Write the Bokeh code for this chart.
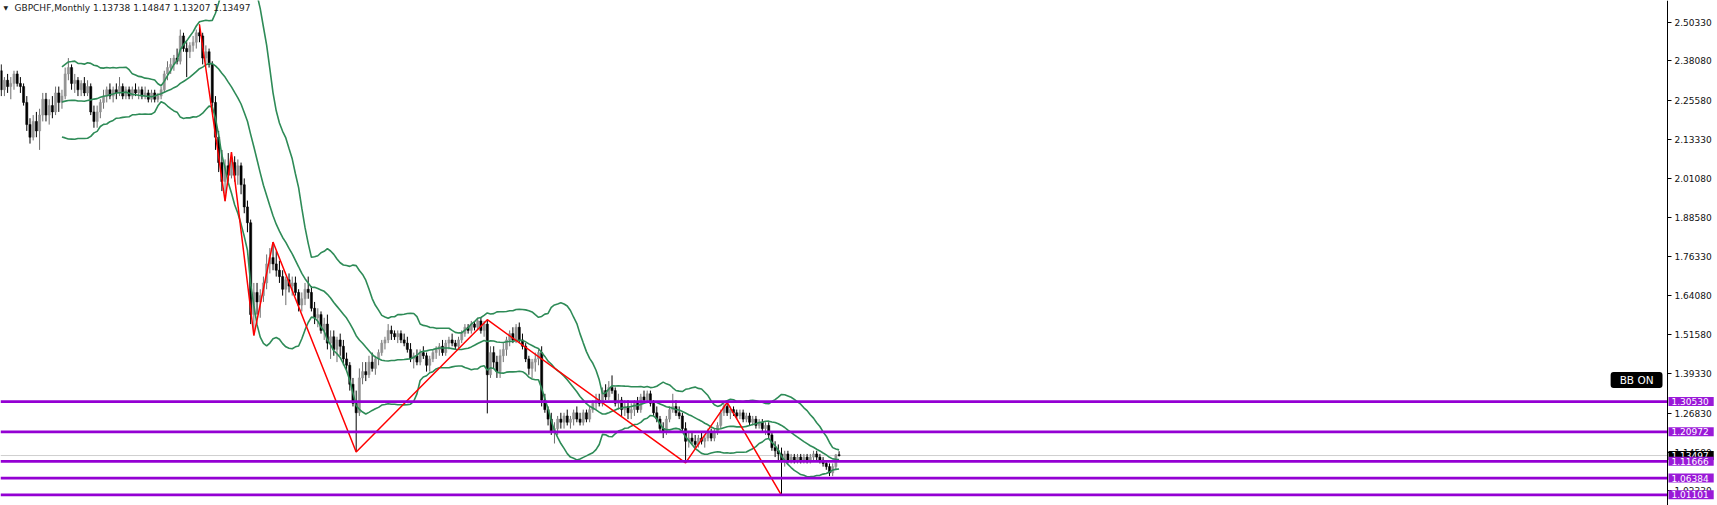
import pandas as pd
from bokeh.plotting import figure
from bokeh.models import Range1d, FixedTicker, NumeralTickFormatter, Label, ColumnDataSource, LinearAxis
from bokeh.embed import file_html
from bokeh.resources import INLINE

# ---------------- data (GBPCHF monthly) ----------------
opens = [2.35, 2.29, 2.32, 2.30, 2.31, 2.34, 2.31, 2.30, 2.25, 2.18,
         2.14, 2.19, 2.16, 2.21, 2.26, 2.21, 2.24, 2.22, 2.28, 2.25,
         2.27, 2.34, 2.36, 2.31, 2.32, 2.29, 2.31, 2.28, 2.30, 2.22,
         2.19, 2.22, 2.25, 2.27, 2.29, 2.27, 2.29, 2.28, 2.30, 2.27,
         2.29, 2.27, 2.29, 2.28, 2.29, 2.27, 2.28, 2.26, 2.28, 2.26,
         2.27, 2.29, 2.34, 2.36, 2.37, 2.39, 2.38, 2.46, 2.42, 2.41,
         2.43, 2.44, 2.47, 2.46, 2.39, 2.41, 2.37, 2.25, 2.14, 2.06,
         2.00, 2.05, 2.02, 2.06, 2.02, 2.05, 1.99, 1.92, 1.87, 1.58,
         1.65, 1.62, 1.64, 1.68, 1.74, 1.76, 1.74, 1.72, 1.70, 1.66,
         1.69, 1.67, 1.68, 1.65, 1.61, 1.63, 1.66, 1.65, 1.60, 1.57,
         1.58, 1.53, 1.55, 1.49, 1.51, 1.47, 1.50, 1.48, 1.44, 1.42,
         1.36, 1.30, 1.27, 1.38, 1.40, 1.39, 1.43, 1.41, 1.44, 1.46,
         1.49, 1.50, 1.53, 1.52, 1.51, 1.52, 1.50, 1.49, 1.47, 1.44,
         1.45, 1.43, 1.46, 1.45, 1.42, 1.44, 1.46, 1.47, 1.48, 1.46,
         1.49, 1.50, 1.49, 1.48, 1.50, 1.52, 1.54, 1.53, 1.55, 1.54,
         1.56, 1.53, 1.55, 1.39, 1.46, 1.43, 1.40, 1.45, 1.47, 1.50,
         1.52, 1.50, 1.54, 1.50, 1.48, 1.44, 1.41, 1.43, 1.44, 1.46,
         1.31, 1.28, 1.25, 1.21, 1.22, 1.25, 1.24, 1.26, 1.24, 1.25,
         1.27, 1.25, 1.24, 1.27, 1.25, 1.28, 1.30, 1.31, 1.30, 1.34,
         1.32, 1.35, 1.34, 1.30, 1.31, 1.28, 1.29, 1.27, 1.28, 1.30,
         1.28, 1.32, 1.31, 1.33, 1.30, 1.27, 1.25, 1.22, 1.21, 1.25,
         1.28, 1.29, 1.27, 1.26, 1.22, 1.18, 1.19, 1.18, 1.17, 1.19,
         1.18, 1.19, 1.21, 1.19, 1.21, 1.23, 1.27, 1.29, 1.27, 1.28,
         1.27, 1.26, 1.27, 1.25, 1.26, 1.24, 1.25, 1.23, 1.24, 1.22,
         1.23, 1.20, 1.16, 1.15, 1.14, 1.12, 1.14, 1.12, 1.13, 1.12,
         1.13, 1.12, 1.13, 1.12, 1.13, 1.14, 1.13, 1.12, 1.11, 1.10,
         1.08, 1.10, 1.13738]
highs = [2.37, 2.33, 2.34, 2.33, 2.35, 2.35, 2.33, 2.31, 2.27, 2.20,
         2.21, 2.22, 2.23, 2.28, 2.28, 2.26, 2.27, 2.30, 2.30, 2.29,
         2.36, 2.39, 2.37, 2.34, 2.33, 2.32, 2.33, 2.32, 2.31, 2.24,
         2.24, 2.26, 2.29, 2.30, 2.31, 2.30, 2.31, 2.33, 2.31, 2.30,
         2.30, 2.30, 2.31, 2.30, 2.30, 2.30, 2.29, 2.29, 2.29, 2.28,
         2.30, 2.35, 2.38, 2.39, 2.40, 2.42, 2.48, 2.47, 2.44, 2.44,
         2.46, 2.48, 2.496, 2.47, 2.43, 2.42, 2.38, 2.27, 2.16, 2.10,
         2.07, 2.09, 2.093, 2.08, 2.07, 2.06, 2.01, 1.94, 1.88, 1.68,
         1.68, 1.66, 1.70, 1.77, 1.79, 1.809, 1.78, 1.75, 1.72, 1.70,
         1.71, 1.70, 1.70, 1.66, 1.65, 1.68, 1.70, 1.67, 1.62, 1.60,
         1.59, 1.57, 1.58, 1.53, 1.53, 1.51, 1.52, 1.50, 1.46, 1.43,
         1.38, 1.34, 1.41, 1.43, 1.43, 1.45, 1.46, 1.45, 1.47, 1.50,
         1.51, 1.55, 1.545, 1.53, 1.53, 1.53, 1.52, 1.51, 1.49, 1.46,
         1.47, 1.47, 1.48, 1.46, 1.45, 1.47, 1.48, 1.49, 1.50, 1.50,
         1.51, 1.52, 1.50, 1.51, 1.53, 1.55, 1.55, 1.56, 1.56, 1.57,
         1.57, 1.56, 1.564, 1.48, 1.48, 1.45, 1.47, 1.49, 1.51, 1.53,
         1.54, 1.55, 1.555, 1.52, 1.49, 1.45, 1.44, 1.46, 1.47, 1.48,
         1.33, 1.29, 1.27, 1.24, 1.26, 1.27, 1.27, 1.28, 1.26, 1.28,
         1.29, 1.27, 1.28, 1.28, 1.29, 1.31, 1.33, 1.33, 1.35, 1.36,
         1.37, 1.388, 1.35, 1.33, 1.32, 1.31, 1.31, 1.30, 1.31, 1.32,
         1.33, 1.34, 1.34, 1.34, 1.31, 1.29, 1.26, 1.24, 1.26, 1.29,
         1.33, 1.31, 1.29, 1.27, 1.24, 1.21, 1.21, 1.20, 1.20, 1.21,
         1.20, 1.22, 1.22, 1.22, 1.24, 1.28, 1.30, 1.303, 1.29, 1.29,
         1.28, 1.28, 1.28, 1.27, 1.27, 1.26, 1.26, 1.25, 1.25, 1.24,
         1.24, 1.21, 1.18, 1.17, 1.16, 1.15, 1.15, 1.14, 1.14, 1.14,
         1.14, 1.14, 1.14, 1.14, 1.15, 1.15, 1.14, 1.13, 1.12, 1.11,
         1.11, 1.14, 1.14847]
lows = [2.27, 2.27, 2.28, 2.26, 2.29, 2.30, 2.28, 2.24, 2.16, 2.12,
        2.13, 2.14, 2.10, 2.19, 2.19, 2.18, 2.20, 2.21, 2.22, 2.23,
        2.26, 2.32, 2.29, 2.28, 2.27, 2.27, 2.27, 2.27, 2.21, 2.17,
        2.17, 2.20, 2.23, 2.25, 2.26, 2.25, 2.26, 2.27, 2.26, 2.26,
        2.26, 2.26, 2.27, 2.26, 2.26, 2.26, 2.25, 2.25, 2.25, 2.25,
        2.26, 2.28, 2.32, 2.34, 2.35, 2.37, 2.37, 2.41, 2.33, 2.39,
        2.41, 2.42, 2.44, 2.37, 2.37, 2.36, 2.22, 2.10, 2.03, 1.97,
        1.938, 2.00, 2.01, 2.00, 1.99, 1.96, 1.90, 1.84, 1.55, 1.514,
        1.58, 1.57, 1.62, 1.66, 1.71, 1.72, 1.70, 1.68, 1.64, 1.61,
        1.65, 1.64, 1.64, 1.59, 1.59, 1.61, 1.63, 1.59, 1.55, 1.54,
        1.52, 1.50, 1.47, 1.44, 1.45, 1.43, 1.45, 1.42, 1.40, 1.34,
        1.29, 1.146, 1.26, 1.36, 1.37, 1.38, 1.40, 1.39, 1.42, 1.45,
        1.47, 1.49, 1.50, 1.50, 1.49, 1.49, 1.48, 1.46, 1.43, 1.41,
        1.42, 1.42, 1.44, 1.40, 1.40, 1.43, 1.44, 1.45, 1.45, 1.45,
        1.47, 1.48, 1.47, 1.47, 1.49, 1.51, 1.52, 1.52, 1.53, 1.53,
        1.52, 1.51, 1.268, 1.38, 1.41, 1.38, 1.38, 1.43, 1.45, 1.48,
        1.49, 1.49, 1.49, 1.47, 1.43, 1.39, 1.38, 1.40, 1.42, 1.29,
        1.27, 1.23, 1.20, 1.173, 1.20, 1.22, 1.22, 1.23, 1.22, 1.23,
        1.24, 1.23, 1.23, 1.24, 1.24, 1.27, 1.28, 1.29, 1.29, 1.31,
        1.31, 1.33, 1.29, 1.28, 1.26, 1.26, 1.25, 1.25, 1.26, 1.27,
        1.27, 1.30, 1.30, 1.29, 1.26, 1.24, 1.21, 1.19, 1.20, 1.24,
        1.27, 1.26, 1.25, 1.21, 1.112, 1.16, 1.17, 1.16, 1.16, 1.17,
        1.16, 1.18, 1.18, 1.18, 1.20, 1.22, 1.26, 1.26, 1.25, 1.26,
        1.25, 1.25, 1.24, 1.24, 1.23, 1.23, 1.22, 1.22, 1.21, 1.20,
        1.19, 1.15, 1.13, 1.12, 1.009, 1.10, 1.11, 1.11, 1.11, 1.11,
        1.11, 1.11, 1.11, 1.11, 1.12, 1.12, 1.11, 1.10, 1.09, 1.07,
        1.07, 1.09, 1.13207]
closes = [2.29, 2.32, 2.30, 2.31, 2.34, 2.31, 2.30, 2.25, 2.18, 2.14,
          2.19, 2.16, 2.21, 2.26, 2.21, 2.24, 2.22, 2.28, 2.25, 2.27,
          2.34, 2.36, 2.31, 2.32, 2.29, 2.31, 2.28, 2.30, 2.22, 2.19,
          2.22, 2.25, 2.27, 2.29, 2.27, 2.29, 2.28, 2.30, 2.27, 2.29,
          2.27, 2.29, 2.28, 2.29, 2.27, 2.28, 2.26, 2.28, 2.26, 2.27,
          2.29, 2.34, 2.36, 2.37, 2.39, 2.38, 2.46, 2.42, 2.41, 2.43,
          2.44, 2.47, 2.46, 2.39, 2.41, 2.37, 2.25, 2.14, 2.06, 2.00,
          2.05, 2.02, 2.06, 2.02, 2.05, 1.99, 1.92, 1.87, 1.58, 1.65,
          1.62, 1.64, 1.68, 1.74, 1.76, 1.74, 1.72, 1.70, 1.66, 1.69,
          1.67, 1.68, 1.65, 1.61, 1.63, 1.66, 1.65, 1.60, 1.57, 1.58,
          1.53, 1.55, 1.49, 1.51, 1.47, 1.50, 1.48, 1.44, 1.42, 1.36,
          1.30, 1.27, 1.38, 1.40, 1.39, 1.43, 1.41, 1.44, 1.46, 1.49,
          1.50, 1.53, 1.52, 1.51, 1.52, 1.50, 1.49, 1.47, 1.44, 1.45,
          1.43, 1.46, 1.45, 1.42, 1.44, 1.46, 1.47, 1.48, 1.46, 1.49,
          1.50, 1.49, 1.48, 1.50, 1.52, 1.54, 1.53, 1.55, 1.54, 1.56,
          1.53, 1.55, 1.39, 1.46, 1.43, 1.40, 1.45, 1.47, 1.50, 1.52,
          1.50, 1.54, 1.50, 1.48, 1.44, 1.41, 1.43, 1.44, 1.46, 1.31,
          1.28, 1.25, 1.21, 1.22, 1.25, 1.24, 1.26, 1.24, 1.25, 1.27,
          1.25, 1.24, 1.27, 1.25, 1.28, 1.30, 1.31, 1.30, 1.34, 1.32,
          1.35, 1.34, 1.30, 1.31, 1.28, 1.29, 1.27, 1.28, 1.30, 1.28,
          1.32, 1.31, 1.33, 1.30, 1.27, 1.25, 1.22, 1.21, 1.25, 1.28,
          1.29, 1.27, 1.26, 1.22, 1.18, 1.19, 1.18, 1.17, 1.19, 1.18,
          1.19, 1.21, 1.19, 1.21, 1.23, 1.27, 1.29, 1.27, 1.28, 1.27,
          1.26, 1.27, 1.25, 1.26, 1.24, 1.25, 1.23, 1.24, 1.22, 1.23,
          1.20, 1.16, 1.15, 1.14, 1.12, 1.14, 1.12, 1.13, 1.12, 1.13,
          1.12, 1.13, 1.12, 1.13, 1.14, 1.13, 1.12, 1.11, 1.10, 1.08,
          1.10, 1.137, 1.13497]

zigzag_bars = [62, 70, 72, 79, 85, 111, 152, 214, 227, 244]
zigzag_prices = [2.496, 1.938, 2.093, 1.514, 1.809, 1.146, 1.564, 1.112, 1.303, 1.009]

levels = [1.30530, 1.20972, 1.11666, 1.06384, 1.01101]
price_ticks = [2.50330, 2.38080, 2.25580, 2.13330, 2.01080, 1.88580, 1.76330,
               1.64080, 1.51580, 1.39330, 1.26830, 1.14580, 1.02330]
last_price = 1.13497
title_text = "GBPCHF,Monthly  1.13738 1.14847 1.13207 1.13497"
bb_text = "BB ON"
bb_label_price = 1.3735

# ---------------- derived ----------------
n = len(closes)
idx = list(range(n))
cs = pd.Series(closes)
mid = cs.rolling(20).mean()
sd = cs.rolling(20).std(ddof=0)
upper = mid + 2 * sd
lower = mid - 2 * sd

bull = [c >= o for o, c in zip(opens, closes)]
src = ColumnDataSource(dict(
    x=idx, h=highs, l=lows,
    top=[max(o, c) for o, c in zip(opens, closes)],
    bottom=[min(o, c) for o, c in zip(opens, closes)],
    body=["#939393" if b else "#000000" for b in bull],
    wick=["#6e6e6e" if b else "#000000" for b in bull],
))

# view: bars 3.198 px apart, price axis 50 px from the right edge
W, H = 1717, 505
BAR_PX = 3.198
X0 = -0.22
X1 = X0 + W / BAR_PX
X_AXIS = X0 + (W - 50) / BAR_PX
Y0, Y1 = 0.9772, 2.5718

p = figure(width=W, height=H,
           x_range=Range1d(X0, X1), y_range=Range1d(Y0, Y1),
           x_axis_location=None, y_axis_location=None,
           output_backend="svg", toolbar_location=None,
           min_border_left=0, min_border_right=0,
           min_border_top=0, min_border_bottom=0)
p.grid.visible = False
p.outline_line_color = None
p.background_fill_color = "white"
p.border_fill_color = "white"

ax = LinearAxis(fixed_location=X_AXIS)
ax.ticker = FixedTicker(ticks=price_ticks)
ax.formatter = NumeralTickFormatter(format="0.00000")
ax.major_tick_out = 4
ax.major_tick_in = 0
ax.minor_tick_line_color = None
ax.axis_line_color = "#000000"
ax.major_tick_line_color = "#000000"
ax.major_label_text_font = "DejaVu Sans"
ax.major_label_text_font_size = "9px"
ax.major_label_text_color = "#111111"
ax.major_label_standoff = 3
p.add_layout(ax, "right")

# current price line
p.segment(x0=[X0], y0=[last_price], x1=[X_AXIS], y1=[last_price],
          line_color="#cfcfcf", line_width=1, level="underlay")

# candles
p.segment(x0="x", y0="h", x1="x", y1="l", line_color="wick", line_width=1, source=src)
p.vbar(x="x", width=0.68, top="top", bottom="bottom", fill_color="body",
       line_color="body", line_width=0.5, source=src)

# Bollinger bands
bb_col = "#2e8b57"
p.line(idx, upper.tolist(), line_color=bb_col, line_width=1.6)
p.line(idx, mid.tolist(), line_color=bb_col, line_width=1.6)
p.line(idx, lower.tolist(), line_color=bb_col, line_width=1.6)

# zigzag
p.line(zigzag_bars, zigzag_prices, line_color="#ff0000", line_width=1.5)

# horizontal levels
p.segment(x0=[X0] * len(levels), y0=levels, x1=[X_AXIS] * len(levels), y1=levels,
          line_color="#9400d3", line_width=2.8)

# price tags on the axis (drawn above the axis labels)
def tag(price, fill):
    return Label(x=X_AXIS, y=price, x_offset=1, text=f"{price:.5f}",
                 text_align="left", text_baseline="middle", text_color="white",
                 text_font="DejaVu Sans", text_font_size="9px",
                 background_fill_color=fill, level="overlay",
                 padding=dict(left=3, right=5, top=1, bottom=1))

p.add_layout(tag(last_price, "#000000"))
for lv in levels:
    p.add_layout(tag(lv, "#9a19d8"))

# BB ON badge
p.add_layout(Label(x=X_AXIS, y=bb_label_price, x_offset=-5, text=bb_text,
                   text_align="right", text_baseline="middle", text_color="white",
                   text_font="DejaVu Sans", text_font_size="10.5px",
                   background_fill_color="#000000", border_radius=3,
                   padding=dict(left=9, right=9, top=2, bottom=2)))

# header
p.add_layout(Label(x=X0, y=Y1, x_offset=3, y_offset=-7, text="\u25bc",
                   text_baseline="middle", text_font="DejaVu Sans",
                   text_font_size="6px", text_color="#222222"))
p.add_layout(Label(x=X0, y=Y1, x_offset=14, y_offset=-7, text=title_text,
                   text_baseline="middle", text_font="DejaVu Sans",
                   text_font_size="9px", text_color="#222222"))

open("out.html", "w").write(file_html(p, INLINE))
